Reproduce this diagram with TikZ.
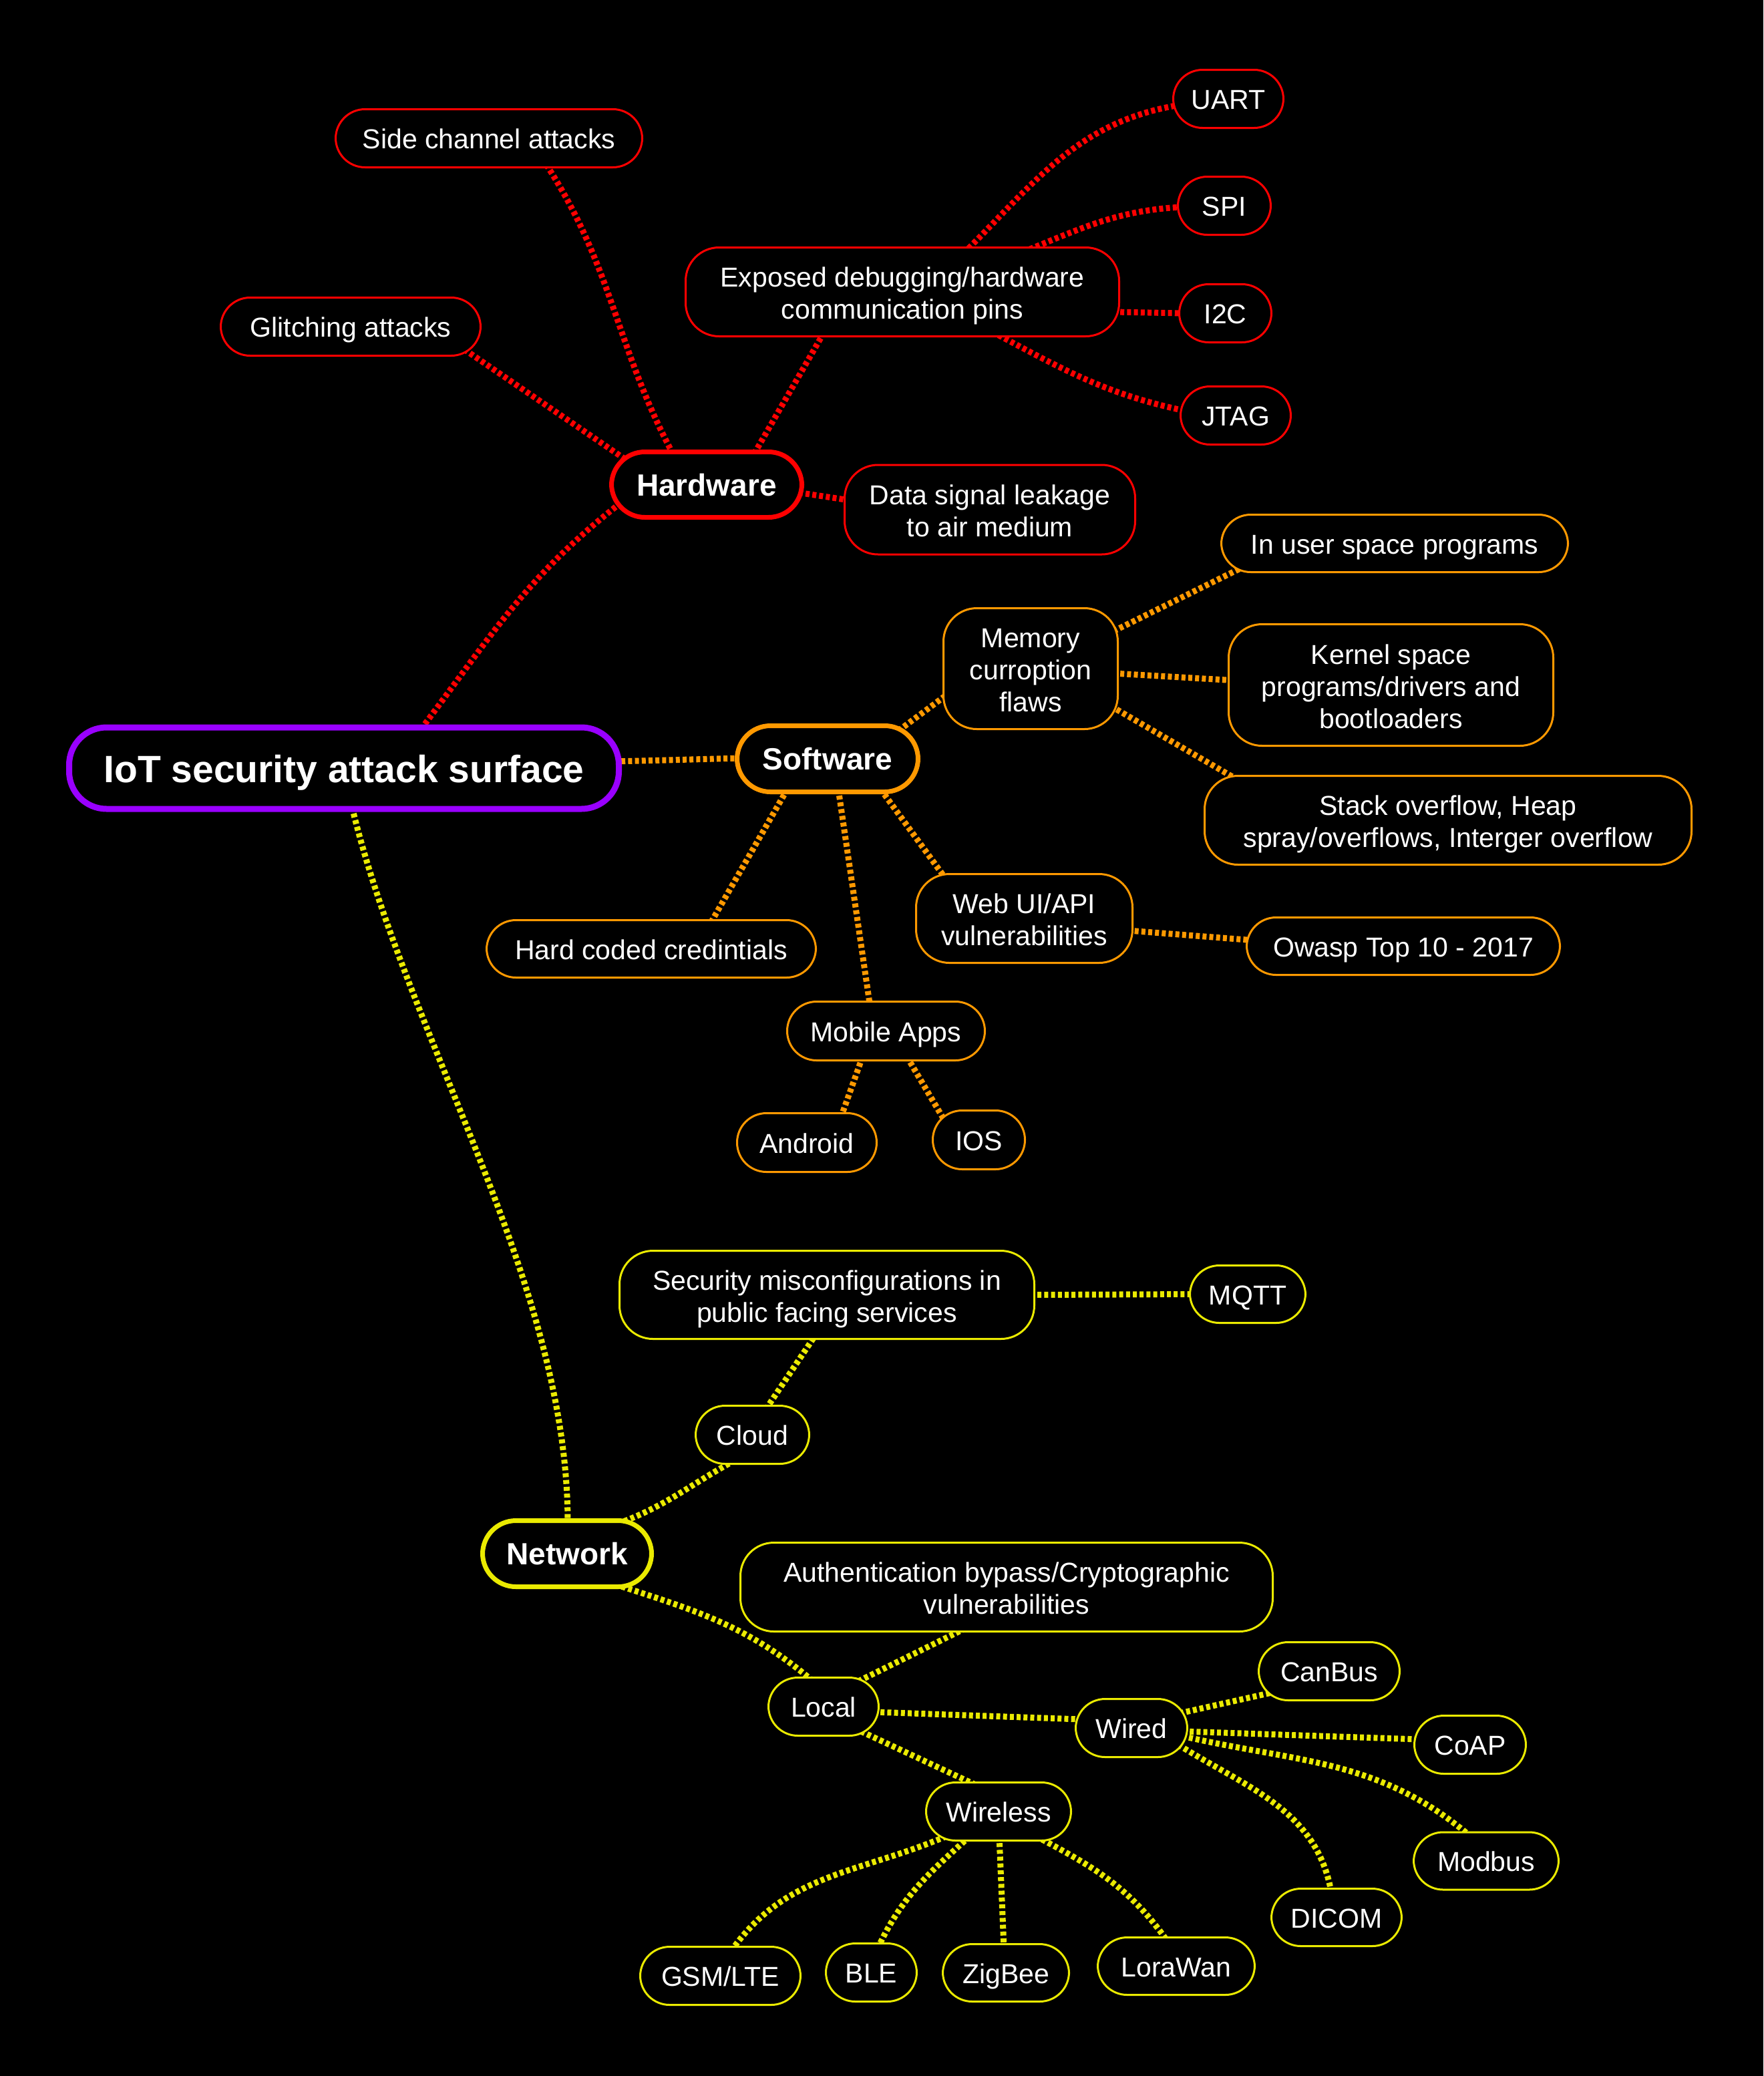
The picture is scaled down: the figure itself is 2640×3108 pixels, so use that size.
\documentclass[tikz,border=0pt]{standalone}
\usepackage{fontspec}
\setmainfont{Liberation Sans}
\pgfdeclarelayer{bg}
\pgfdeclarelayer{lines}
\pgfsetlayers{bg,lines,main}
\definecolor{hwred}{HTML}{FF0000}
\definecolor{sworange}{HTML}{FF9900}
\definecolor{netyellow}{HTML}{EAEA00}
\definecolor{rootpurple}{HTML}{9900FF}
\newcommand{\mytopstrut}{\rule{0pt}{42pt}}
\newcommand{\mybotstrut}{\rule[-9pt]{0pt}{9pt}}
\tikzset{
  sz/.style 2 args={minimum width=#1pt, minimum height=#2pt},
  box/.style={draw, fill=black, text=white, align=center, inner sep=0pt,
    font=\fontsize{41}{48}\selectfont, line width=3pt, rounded corners=44pt,
    text height=40pt, text depth=9pt},
  tallbox/.style={draw, fill=black, text=white, align=center, inner sep=0pt,
    font=\fontsize{41}{48}\selectfont, line width=3pt, rounded corners=50pt},
  mainbox/.style={draw, fill=black, text=white, align=center, inner sep=0pt,
    font=\bfseries\fontsize{46}{54}\selectfont, line width=7pt, rounded corners=50pt,
    text height=42pt, text depth=8.6pt},
  rootbox/.style={draw=rootpurple, fill=black, text=white, align=center, inner sep=0pt,
    font=\bfseries\fontsize{57}{66}\selectfont, line width=9pt, rounded corners=56pt,
    text height=54pt, text depth=12pt},
  conn/.style={line width=9pt, dash pattern=on 6pt off 4.2pt},
  cr/.style={conn, draw=hwred},
  co/.style={conn, draw=sworange},
  cy/.style={conn, draw=netyellow},
}
\begin{document}
\begin{tikzpicture}[x=1pt, y=1pt]
\useasboundingbox (0,0) rectangle (2640,-3108);
\begin{pgfonlayer}{bg}
\fill[black] (0,0) rectangle (2640,-3108);
\end{pgfonlayer}

% root and main branches
\node[rootbox, sz={823}{122}] (root) at (515,-1150) {IoT security attack surface};
\node[mainbox, draw=hwred, sz={285}{98}] (hw) at (1058,-725.5) {Hardware};
\node[mainbox, draw=sworange, sz={271}{99}] (sw) at (1239,-1136) {Software};
\node[mainbox, draw=netyellow, sz={253}{99}] (net) at (849,-2326) {Network};

% hardware
\node[box, draw=hwred, sz={459}{87}] (side) at (732,-207) {Side channel attacks};
\node[box, draw=hwred, sz={389}{87}] (glitch) at (525,-489) {Glitching attacks};
\node[tallbox, draw=hwred, sz={649}{133}] (exposed) at (1351,-437) {\mytopstrut Exposed debugging/hardware\\communication pins\mybotstrut};
\node[box, draw=hwred, sz={165}{87}] (uart) at (1839,-148) {UART};
\node[box, draw=hwred, sz={139}{87}] (spi) at (1833,-308) {SPI};
\node[box, draw=hwred, sz={138}{87}] (i2c) at (1834.5,-469) {I2C};
\node[box, draw=hwred, sz={165}{87}] (jtag) at (1850,-622) {JTAG};
\node[tallbox, draw=hwred, sz={435}{134}] (data) at (1482,-763) {\mytopstrut Data signal leakage\\to air medium\mybotstrut};

% software
\node[tallbox, draw=sworange, sz={261}{181}] (memory) at (1543,-1001) {\mytopstrut Memory\\curroption\\flaws\mybotstrut};
\node[box, draw=sworange, sz={519}{86}] (inuser) at (2088,-813.5) {In user space programs};
\node[tallbox, draw=sworange, sz={486}{182}] (kernel) at (2082.5,-1025.5) {\mytopstrut Kernel space\\programs/drivers and\\bootloaders\mybotstrut};
\node[tallbox, draw=sworange, sz={729}{133}] (stack) at (2168,-1228) {\mytopstrut Stack overflow, Heap\\spray/overflows, Interger overflow\mybotstrut};
\node[tallbox, draw=sworange, sz={324}{133}] (web) at (1533.5,-1375) {\mytopstrut Web UI/API\\vulnerabilities\mybotstrut};
\node[box, draw=sworange, sz={469}{86}] (owasp) at (2101,-1416.5) {Owasp Top 10 - 2017};
\node[box, draw=sworange, sz={493}{86}] (hard) at (975,-1420.5) {Hard coded credintials};
\node[box, draw=sworange, sz={296}{88}] (mobile) at (1326.5,-1543.5) {Mobile Apps};
\node[box, draw=sworange, sz={209}{88}] (android) at (1208,-1710.5) {Android};
\node[box, draw=sworange, sz={138}{88}] (ios) at (1465.5,-1706.5) {IOS};

% network
\node[tallbox, draw=netyellow, sz={621}{132}] (security) at (1238,-1938.5) {\mytopstrut Security misconfigurations in\\public facing services\mybotstrut};
\node[box, draw=netyellow, sz={173}{86}] (mqtt) at (1868,-1937.5) {MQTT};
\node[box, draw=netyellow, sz={170}{87}] (cloud) at (1126.5,-2148) {Cloud};
\node[tallbox, draw=netyellow, sz={797}{133}] (auth) at (1507,-2376) {\mytopstrut Authentication bypass/Cryptographic\\vulnerabilities\mybotstrut};
\node[box, draw=netyellow, sz={165}{87}] (local) at (1233,-2555) {Local};
\node[box, draw=netyellow, sz={167}{87}] (wired) at (1694,-2587) {Wired};
\node[box, draw=netyellow, sz={211}{87}] (canbus) at (1990,-2502) {CanBus};
\node[box, draw=netyellow, sz={167}{87}] (coap) at (2201,-2612) {CoAP};
\node[box, draw=netyellow, sz={217}{86}] (modbus) at (2225,-2786) {Modbus};
\node[box, draw=netyellow, sz={195}{86}] (dicom) at (2001,-2870.5) {DICOM};
\node[box, draw=netyellow, sz={217}{87}] (wireless) at (1495,-2712) {Wireless};
\node[box, draw=netyellow, sz={240}{87}] (gsm) at (1078.5,-2958) {GSM/LTE};
\node[box, draw=netyellow, sz={136}{87}] (ble) at (1304.5,-2953) {BLE};
\node[box, draw=netyellow, sz={189}{86}] (zigbee) at (1506,-2953.5) {ZigBee};
\node[box, draw=netyellow, sz={235}{86}] (lorawan) at (1761,-2943.5) {LoraWan};

\begin{pgfonlayer}{lines}
% root connectors
\draw[cr] ([shift={(115,58)}]root.center) to[out=53,in=218] ([shift={(-132,-30)}]hw.center);
\draw[co] ([shift={(405,10)}]root.center) -- ([shift={(-128,1)}]sw.center);
\draw[cy] ([shift={(12,-58)}]root.center) .. controls +(-76.5:360) and +(90:360) .. ([shift={(1,46)}]net.center);

% hardware connectors
\draw[cr] ([shift={(-50,45)}]hw.center) to[out=118,in=-57] ([shift={(85,-38)}]side.center);
\draw[cr] ([shift={(-122,38)}]hw.center) -- ([shift={(170,-34)}]glitch.center);
\draw[cr] ([shift={(71,46)}]hw.center) -- ([shift={(-117,-60)}]exposed.center);
\draw[cr] ([shift={(138,-12)}]hw.center) -- ([shift={(-210,14)}]data.center);
\draw[cr] ([shift={(92,58)}]exposed.center) to[out=45,in=190] ([shift={(-78,-10)}]uart.center);
\draw[cr] ([shift={(181,60)}]exposed.center) to[out=22,in=183] ([shift={(-64,-2)}]spi.center);
\draw[cr] ([shift={(316,-30)}]exposed.center) -- ([shift={(-62,0)}]i2c.center);
\draw[cr] ([shift={(135,-60)}]exposed.center) to[out=-28,in=168] ([shift={(-76,7)}]jtag.center);

% software connectors
\draw[co] ([shift={(106,42)}]sw.center) -- ([shift={(-124,-38)}]memory.center);
\draw[co] ([shift={(124,56)}]memory.center) -- ([shift={(-228,-36)}]inuser.center);
\draw[co] ([shift={(124,-7)}]memory.center) -- ([shift={(-238,7)}]kernel.center);
\draw[co] ([shift={(120,-56)}]memory.center) -- ([shift={(-314,60)}]stack.center);
\draw[co] ([shift={(79,-45)}]sw.center) -- ([shift={(-118,60)}]web.center);
\draw[co] ([shift={(155,-18)}]web.center) -- ([shift={(-228,9)}]owasp.center);
\draw[co] ([shift={(-60,-45)}]sw.center) -- ([shift={(88,37)}]hard.center);
\draw[co] ([shift={(16,-45)}]sw.center) -- ([shift={(-24,38)}]mobile.center);
\draw[co] ([shift={(-35,-38)}]mobile.center) -- ([shift={(50,35)}]android.center);
\draw[co] ([shift={(31,-38)}]mobile.center) -- ([shift={(-52,30)}]ios.center);

% network connectors
\draw[cy] ([shift={(76,45)}]net.center) to[out=20,in=208] ([shift={(-22,-36)}]cloud.center);
\draw[cy] ([shift={(20,38)}]cloud.center) -- ([shift={(-17,-60)}]security.center);
\draw[cy] ([shift={(305,0)}]security.center) -- ([shift={(-80,0)}]mqtt.center);
\draw[cy] ([shift={(72,-46)}]net.center) to[out=-18,in=140] ([shift={(-18,40)}]local.center);
\draw[cy] ([shift={(52,38)}]local.center) -- ([shift={(-56,-59)}]auth.center);
\draw[cy] ([shift={(75,-8)}]local.center) -- ([shift={(-76,13)}]wired.center);
\draw[cy] ([shift={(56,-37)}]local.center) -- ([shift={(-28,37)}]wireless.center);
\draw[cy] ([shift={(72,22)}]wired.center) -- ([shift={(-86,-32)}]canbus.center);
\draw[cy] ([shift={(77,-5)}]wired.center) -- ([shift={(-76,8)}]coap.center);
\draw[cy] ([shift={(76,-12)}]wired.center) to[out=-13,in=140] ([shift={(-26,39)}]modbus.center);
\draw[cy] ([shift={(70,-25)}]wired.center) to[out=-32,in=100] ([shift={(-8,38)}]dicom.center);
\draw[cy] ([shift={(-78,-37)}]wireless.center) to[out=203,in=55] ([shift={(16,37)}]gsm.center);
\draw[cy] ([shift={(-43,-37)}]wireless.center) to[out=222,in=65] ([shift={(10,37)}]ble.center);
\draw[cy] ([shift={(1,-37)}]wireless.center) -- ([shift={(-3,37)}]zigbee.center);
\draw[cy] ([shift={(56,-37)}]wireless.center) to[out=-28,in=125] ([shift={(-13,37)}]lorawan.center);
\end{pgfonlayer}
\end{tikzpicture}
\end{document}
